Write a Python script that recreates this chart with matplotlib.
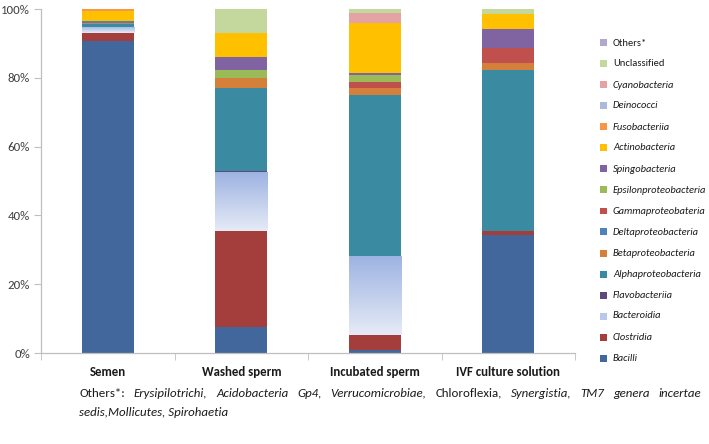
import matplotlib
matplotlib.use("Agg")
import matplotlib.pyplot as plt
import numpy as np
from matplotlib.patches import Rectangle
from matplotlib.colors import LinearSegmentedColormap
from matplotlib import font_manager

_avail = {f.name for f in font_manager.fontManager.ttflist}
_main = 'Carlito' if 'Carlito' in _avail else 'Lato'
plt.rcParams['font.family'] = [_main, 'DejaVu Sans']

categories = ['Semen', 'Washed sperm', 'Incubated sperm', 'IVF culture solution']

# stack order bottom -> top
series_names = ['Bacilli', 'Clostridia', 'Bacteroidia', 'Flavobacteriia',
                'Alphaproteobacteria', 'Betaproteobacteria', 'Deltaproteobacteria',
                'Gammaproteobateria', 'Epsilonproteobacteria', 'Spingobacteria',
                'Actinobacteria', 'Fusobacteriia', 'Deinococci', 'Cyanobacteria',
                'Unclassified', 'Others*']
bacilli        = [90.8, 7.6, 0.8, 34.4]
clostridia     = [2.2, 28.0, 4.5, 1.2]
bacteroidia    = [1.8, 17.1, 22.9, 0.0]
flavobacteriia = [0.1, 0.3, 0.0, 0.0]
alpha          = [0.8, 24.0, 46.9, 46.8]
beta           = [0.3, 2.9, 2.0, 1.8]
delta          = [0.4, 0.0, 0.0, 0.0]
gamma          = [0.1, 0.0, 1.8, 4.6]
epsilon        = [0.1, 2.3, 2.0, 0.0]
sping          = [0.0, 3.9, 0.5, 5.3]
actino         = [2.8, 6.9, 14.6, 4.5]
fuso           = [0.5, 0.0, 0.0, 0.0]
deino          = [0.0, 0.0, 0.0, 0.0]
cyano          = [0.0, 0.0, 2.7, 0.0]
unclassified   = [0.1, 7.0, 1.3, 1.4]
others         = [0.0, 0.0, 0.0, 0.1]

series_values = [bacilli, clostridia, bacteroidia, flavobacteriia, alpha, beta, delta,
                 gamma, epsilon, sping, actino, fuso, deino, cyano, unclassified, others]
colors = ['#41679C', '#A33E3C', '#B9C8E8', '#5F497A', '#3A8BA1', '#D4803A', '#4F81BD',
          '#C0504D', '#9BBB59', '#8064A2', '#FFC000', '#F79646', '#A9BADB', '#E3A3A5',
          '#C4D79C', '#B2A8CC']
italic = [True]*14 + [False, False]

W, H = 709, 444
fig = plt.figure(figsize=(W/100, H/100), dpi=100)
ax_left, ax_right, ax_bot, ax_top = 41, 575, 353, 9
ax = fig.add_axes([ax_left/W, 1-ax_bot/H, (ax_right-ax_left)/W, (ax_bot-ax_top)/H])

x = np.arange(len(categories))
width = 0.39
bottom = np.zeros(len(categories))
cmap = LinearSegmentedColormap.from_list('g', ['#E6EBF6', '#9DB3E2'])
for name, vals, col in zip(series_names, series_values, colors):
    vals = np.array(vals, dtype=float)
    bars = ax.bar(x, vals, width, bottom=bottom, color=col, edgecolor='none', label=name)
    if name == 'Bacteroidia':
        grad = np.linspace(0, 1, 256).reshape(-1, 1)
        for b in bars:
            if b.get_height() <= 0:
                continue
            im = ax.imshow(grad, cmap=cmap, origin='lower', aspect='auto',
                           extent=[b.get_x(), b.get_x()+b.get_width(),
                                   b.get_y(), b.get_y()+b.get_height()],
                           zorder=b.get_zorder()+0.1)
            im.set_clip_path(b)
    bottom += vals

ax.set_xlim(-0.5, len(categories)-0.5)
ax.set_ylim(0, 100)
ax.set_yticks(np.arange(0, 101, 20))
ax.set_yticklabels([f'{v}%' for v in range(0, 101, 20)], fontsize=9.3, color='#404040')
ax.set_xticks(x)
ax.set_xticklabels(categories, fontsize=9.3, fontweight='bold', color='#1a1a1a')
ax.set_xticks(np.arange(-0.5, len(categories)), minor=True)
ax.tick_params(axis='x', which='major', length=0, pad=9)
ax.tick_params(axis='x', which='minor', length=5, color='#BFBFBF')
ax.tick_params(axis='y', length=5, color='#BFBFBF', pad=3)
for s in ['top', 'right']:
    ax.spines[s].set_visible(False)
for s in ['left', 'bottom']:
    ax.spines[s].set_color('#BFBFBF')
    ax.spines[s].set_linewidth(0.9)

fig.canvas.draw()
renderer = fig.canvas.get_renderer()

# manual legend (reverse order), fitted to the right margin
leg_names = series_names[::-1]
leg_colors = colors[::-1]
leg_italic = italic[::-1]
mk_x, tx_x, tx_end = 603, 613, 706
y_first, dy = 43, 21
fs = 8.2
probe = [fig.text(0, 0, n, fontsize=fs, fontstyle='italic' if it else 'normal')
         for n, it in zip(leg_names, leg_italic)]
maxw = max(p.get_window_extent(renderer).width for p in probe)
for p in probe:
    p.remove()
if maxw > tx_end - tx_x:
    fs = fs * (tx_end - tx_x) / maxw
for i, (n, c, it) in enumerate(zip(leg_names, leg_colors, leg_italic)):
    yy = y_first + i*dy
    fig.patches.append(Rectangle(((mk_x-3.5)/W, 1-(yy+3.5)/H), 7/W, 7/H,
                                 transform=fig.transFigure, facecolor=c,
                                 edgecolor='none', figure=fig))
    fig.text(tx_x/W, 1-yy/H, n, fontsize=fs, fontstyle='italic' if it else 'normal',
             color='#1a1a1a', va='center', ha='left')

# footnote, line 1 justified
line1 = [('Others*:', 'normal'), ('Erysipilotrichi,', 'italic'), ('Acidobacteria', 'italic'),
         ('Gp4,', 'italic'), ('Verrucomicrobiae,', 'italic'), ('Chloroflexia,', 'normal'),
         ('Synergistia,', 'italic'), ('TM7', 'italic'), ('genera', 'italic'), ('incertae', 'italic')]
x0, x1 = 79, 701
y1 = H - 393
texts, widths = [], []
for w, st in line1:
    t = fig.text(0, 0, w, fontsize=9.3, fontstyle=st, color='#1a1a1a', va='center', ha='left')
    texts.append(t)
    widths.append(t.get_window_extent(renderer).width)
gap = (x1 - x0 - sum(widths)) / (len(line1) - 1)
cur = x0
for t, wd in zip(texts, widths):
    t.set_position((cur/W, y1/H))
    cur += wd + gap
fig.text(x0/W, (H-412)/H, 'sedis,Mollicutes, Spirohaetia', fontsize=9.3,
         fontstyle='italic', color='#1a1a1a', va='center', ha='left')

fig.savefig('out.png', dpi=100)
